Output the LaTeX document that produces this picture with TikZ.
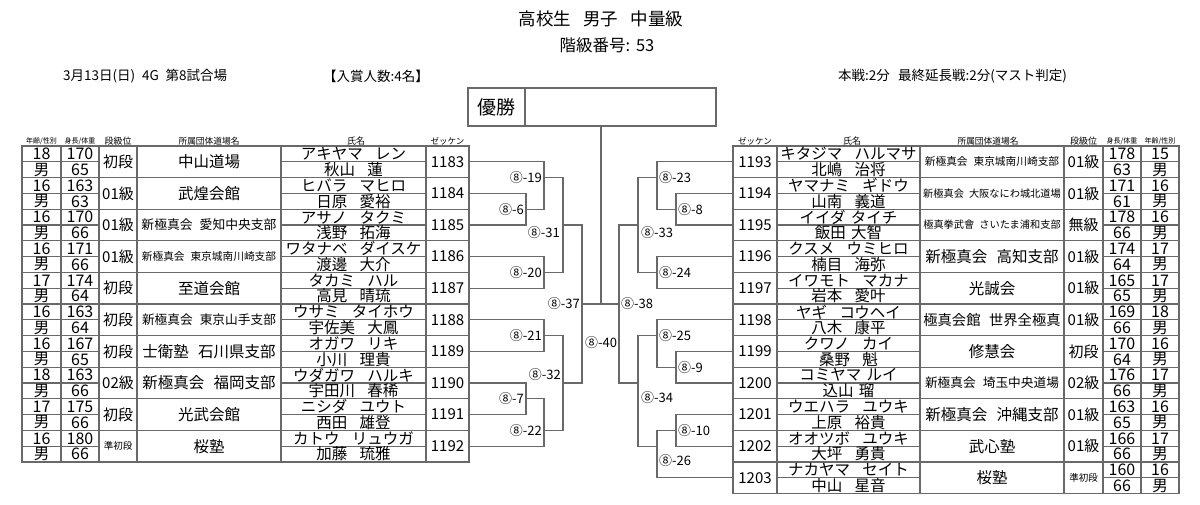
\documentclass[tikz,border=0pt]{standalone}
\usepackage{fontspec}
\setmainfont{Noto Sans CJK JP}
\newcommand\fs[1]{\fontsize{#1}{#1}\selectfont}
\newcommand\gp{\hspace{0.8em}}
\definecolor{lc}{RGB}{105,105,105}
\begin{document}
\begin{tikzpicture}[x=1pt,y=-1pt,
  tbl/.style={draw=lc, line width=1.1pt},
  br/.style={draw=lc, line width=1.1pt},
  txt/.style={inner sep=0pt, font={\fs{15.5}}},
  num/.style={inner sep=0pt, font={\fs{16}}},
  hdr/.style={inner sep=0pt},
  lbl/.style={inner sep=0pt, font={\fs{13}}},
  cellL/.style={inner sep=0pt, minimum width=43pt, minimum height=31.6pt, font={\fs{15}}},
  cellR/.style={inner sep=0pt, minimum width=44pt, minimum height=31.6pt, font={\fs{15}}}]
\useasboundingbox (0,0) rectangle (1200,504);
\fill[white] (0,0) rectangle (1200,504);

% titles
\node[inner sep=0pt, font={\fs{17.5}}] (title) at (601,19) {高校生\hspace{0.7em}男子\hspace{0.7em}中量級};
\node[inner sep=0pt, font={\fs{16.5}}] (cls) at (607,45) {階級番号:\hspace{0.35em}53};
\node[inner sep=0pt, font={\fs{13.5}}, anchor=west] (date) at (63,76) {3月13日(日)\hspace{0.5em}4G\hspace{0.5em}第8試合場};
\node[inner sep=0pt, font={\fs{13.5}}, anchor=west] (prize) at (323,76) {【入賞人数:4名】};
\node[inner sep=0pt, font={\fs{13.5}}, anchor=west] (time) at (838,76) {本戦:2分\hspace{0.6em}最終延長戦:2分(マスト判定)};

% winner box
\node[draw=lc, line width=1.1pt, minimum width=57pt, minimum height=38pt, inner sep=0pt, font={\fs{19}}] (wl) at (496.5,107) {優勝};
\node[draw=lc, line width=1.1pt, minimum width=191pt, minimum height=38pt, inner sep=0pt] (wb) at (620.5,107) {};

% headers
\node[hdr, font={\fs{7}}] (hL1) at (41.5,141) {年齢/性別};
\node[hdr, font={\fs{7}}] (hL2) at (80,141) {身長/体重};
\node[hdr, font={\fs{9}}] (hL3) at (118,141) {段級位};
\node[hdr, font={\fs{8.7}}] (hL4) at (209,141) {所属団体道場名};
\node[hdr, font={\fs{9}}] (hL5) at (356,141) {氏名};
\node[hdr, font={\fs{8.5}}] (hL6) at (447.5,141) {ゼッケン};
\node[hdr, font={\fs{8.5}}] (hR6) at (755,141) {ゼッケン};
\node[hdr, font={\fs{9}}] (hR5) at (852,141) {氏名};
\node[hdr, font={\fs{8.7}}] (hR4) at (988,141) {所属団体道場名};
\node[hdr, font={\fs{9}}] (hR3) at (1083.5,141) {段級位};
\node[hdr, font={\fs{7}}] (hR2) at (1122,141) {身長/体重};
\node[hdr, font={\fs{7}}] (hR1) at (1160,141) {年齢/性別};

% left table grid
\draw[tbl] (22,146) rectangle (469,462);
\foreach \x in {61,99,137,281,426} \draw[tbl] (\x,146) -- (\x,462);
\foreach \i in {1,...,9} \draw[tbl] (22,{146+\i*31.6}) -- (469,{146+\i*31.6});
\foreach \i in {0,...,9} {
  \draw[tbl] (22,{146+(\i+0.5)*31.6}) -- (99,{146+(\i+0.5)*31.6});
  \draw[tbl] (281,{146+(\i+0.5)*31.6}) -- (426,{146+(\i+0.5)*31.6});
}
% right table grid
\draw[tbl] (733,146) rectangle (1179,493.6);
\foreach \x in {777,920,1064,1103,1141} \draw[tbl] (\x,146) -- (\x,493.6);
\foreach \i in {1,...,10} \draw[tbl] (733,{146+\i*31.6}) -- (1179,{146+\i*31.6});
\foreach \i in {0,...,10} {
  \draw[tbl] (777,{146+(\i+0.5)*31.6}) -- (920,{146+(\i+0.5)*31.6});
  \draw[tbl] (1103,{146+(\i+0.5)*31.6}) -- (1179,{146+(\i+0.5)*31.6});
}

\newcommand\Lrow[9]{%
 \pgfmathsetmacro\yc{146+(#1+0.5)*31.6}%
 \pgfmathsetmacro\yt{\yc-7.9}%
 \pgfmathsetmacro\yb{\yc+7.9}%
 \node[num] (La#1) at (41.5,\yt) {#2};
 \node[txt] (Lx#1) at (41.5,\yb) {男};
 \node[num] (Lh#1) at (80,\yt) {#3};
 \node[num] (Lw#1) at (80,\yb) {#4};
 \node[txt, font={\fs{15}}] (Lr#1) at (118,\yc) {#5};
 \node[txt] (Ld#1) at (209,\yc) {#6};
 \node[txt] (Lk#1) at (353.5,\yt) {#7};
 \node[txt] (Ln#1) at (353.5,\yb) {#8};
 \node[cellL] (Lz#1) at (447.5,\yc) {#9};
}
\newcommand\Rrow[9]{%
 \pgfmathsetmacro\yc{146+(#1+0.5)*31.6}%
 \pgfmathsetmacro\yt{\yc-7.9}%
 \pgfmathsetmacro\yb{\yc+7.9}%
 \node[num] (Ra#1) at (1160,\yt) {#2};
 \node[txt] (Rx#1) at (1160,\yb) {男};
 \node[num] (Rh#1) at (1122,\yt) {#3};
 \node[num] (Rw#1) at (1122,\yb) {#4};
 \node[txt, font={\fs{15}}] (Rr#1) at (1083.5,\yc) {#5};
 \node[txt] (Rd#1) at (992,\yc) {#6};
 \node[txt] (Rk#1) at (848.5,\yt) {#7};
 \node[txt] (Rn#1) at (848.5,\yb) {#8};
 \node[cellR] (Rz#1) at (755,\yc) {#9};
}

\Lrow{0}{18}{170}{65}{初段}{中山道場}{アキヤマ\gp レン}{秋山\gp 蓮}{1183}
\Lrow{1}{16}{163}{63}{01級}{武煌会館}{ヒバラ\gp マヒロ}{日原\gp 愛裕}{1184}
\Lrow{2}{16}{170}{66}{01級}{\fs{12.8}新極真会\hspace{.55em}愛知中央支部}{アサノ\gp タクミ}{浅野\gp 拓海}{1185}
\Lrow{3}{16}{171}{66}{01級}{\fs{10.7}新極真会\hspace{.55em}東京城南川崎支部}{ワタナベ\gp ダイスケ}{渡邊\gp 大介}{1186}
\Lrow{4}{17}{174}{64}{初段}{至道会館}{タカミ\gp ハル}{高見\gp 晴琉}{1187}
\Lrow{5}{16}{163}{64}{初段}{\fs{12.7}新極真会\hspace{.55em}東京山手支部}{ウサミ\gp タイホウ}{宇佐美\gp 大鳳}{1188}
\Lrow{6}{16}{167}{65}{初段}{士衛塾\hspace{.6em}石川県支部}{オガワ\gp リキ}{小川\gp 理貴}{1189}
\Lrow{7}{18}{163}{66}{02級}{新極真会\hspace{.6em}福岡支部}{ウダガワ\gp ハルキ}{宇田川\gp 春稀}{1190}
\Lrow{8}{17}{175}{66}{初段}{光武会館}{ニシダ\gp ユウト}{西田\gp 雄登}{1191}
\Lrow{9}{16}{180}{66}{\fs{9.5}準初段}{桜塾}{カトウ\gp リュウガ}{加藤\gp 琉雅}{1192}

\Rrow{0}{15}{178}{63}{01級}{\fs{10.7}新極真会\hspace{.55em}東京城南川崎支部}{キタジマ\gp ハルマサ}{北嶋\gp 治将}{1193}
\Rrow{1}{16}{171}{61}{01級}{\fs{10.2}新極真会\hspace{.5em}大阪なにわ城北道場}{ヤマナミ\gp ギドウ}{山南\gp 義道}{1194}
\Rrow{2}{16}{178}{66}{無級}{\fs{10.2}極真拳武會\hspace{.5em}さいたま浦和支部}{イイダ\hspace{0.35em}タイチ}{飯田\hspace{0.35em}大智}{1195}
\Rrow{3}{17}{174}{64}{01級}{新極真会\hspace{.6em}高知支部}{クスメ\gp ウミヒロ}{楠目\gp 海弥}{1196}
\Rrow{4}{17}{165}{65}{01級}{光誠会}{イワモト\gp マカナ}{岩本\gp 愛叶}{1197}
\Rrow{5}{18}{169}{66}{01級}{\fs{14.3}極真会館\hspace{.6em}世界全極真}{ヤギ\gp コウヘイ}{八木\gp 康平}{1198}
\Rrow{6}{16}{170}{64}{初段}{修慧会}{クワノ\gp カイ}{桑野\gp 魁}{1199}
\Rrow{7}{17}{176}{66}{02級}{\fs{12.7}新極真会\hspace{.55em}埼玉中央道場}{コミヤマ\hspace{0.35em}ルイ}{込山\hspace{0.35em}瑠}{1200}
\Rrow{8}{16}{163}{65}{01級}{新極真会\hspace{.6em}沖縄支部}{ウエハラ\gp ユウキ}{上原\gp 裕貴}{1201}
\Rrow{9}{17}{166}{66}{01級}{武心塾}{オオツボ\gp ユウキ}{大坪\gp 勇貴}{1202}
\Rrow{10}{16}{160}{66}{\fs{9.5}準初段}{桜塾}{ナカヤマ\gp セイト}{中山\gp 星音}{1203}

% bracket: left
\coordinate (m6) at (526,209.2);
\coordinate (m19) at (544,177.6);
\coordinate (m20) at (544,272.4);
\coordinate (m31) at (563,225.0);
\coordinate (m21) at (544,335.6);
\coordinate (m7) at (526,398.8);
\coordinate (m22) at (544,430.4);
\coordinate (m32) at (563,383.0);
\coordinate (m37) at (582,304.0);
\draw[br] (Lz1.east) -| (m6); \draw[br] (Lz2.east) -| (m6);
\draw[br] (Lz0.east) -| (m19); \draw[br] (m6) -| (m19);
\draw[br] (Lz3.east) -| (m20); \draw[br] (Lz4.east) -| (m20);
\draw[br] (m19) -| (m31); \draw[br] (m20) -| (m31);
\draw[br] (Lz5.east) -| (m21); \draw[br] (Lz6.east) -| (m21);
\draw[br] (Lz7.east) -| (m7); \draw[br] (Lz8.east) -| (m7);
\draw[br] (m7) -| (m22); \draw[br] (Lz9.east) -| (m22);
\draw[br] (m21) -| (m32); \draw[br] (m22) -| (m32);
\draw[br] (m31) -| (m37); \draw[br] (m32) -| (m37);
% bracket: right
\coordinate (m8) at (676,209.2);
\coordinate (m23) at (657,177.6);
\coordinate (m24) at (657,272.4);
\coordinate (m33) at (638,225.0);
\coordinate (m9) at (676,367.2);
\coordinate (m25) at (657,335.6);
\coordinate (m10) at (676,430.4);
\coordinate (m26) at (657,446.2);
\coordinate (m34) at (638,383.0);
\coordinate (m38) at (619,304.0);
\draw[br] (Rz1.west) -| (m8); \draw[br] (Rz2.west) -| (m8);
\draw[br] (Rz0.west) -| (m23); \draw[br] (m8) -| (m23);
\draw[br] (Rz3.west) -| (m24); \draw[br] (Rz4.west) -| (m24);
\draw[br] (m23) -| (m33); \draw[br] (m24) -| (m33);
\draw[br] (Rz6.west) -| (m9); \draw[br] (Rz7.west) -| (m9);
\draw[br] (Rz5.west) -| (m25); \draw[br] (m9) -| (m25);
\draw[br] (Rz8.west) -| (m10); \draw[br] (Rz9.west) -| (m10);
\draw[br] (m10) -| (m26); \draw[br] (Rz10.west) -| (m26);
\draw[br] (m25) -| (m34); \draw[br] (m26) -| (m34);
\draw[br] (m33) -| (m38); \draw[br] (m34) -| (m38);
% final
\coordinate (fin) at (601,304.0);
\draw[br] (m37) -- (m38);
\draw[br] (fin) -- (fin |- wb.south);

% match labels
\node[lbl, anchor=east] (l6) at (524,209.2) {⑧-6};
\node[lbl, anchor=east] (l19) at (542,177.6) {⑧-19};
\node[lbl, anchor=east] (l20) at (542,272.4) {⑧-20};
\node[lbl, anchor=east] (l31) at (560,233) {⑧-31};
\node[lbl, anchor=east] (l21) at (542,335.6) {⑧-21};
\node[lbl, anchor=east] (l7) at (524,398.8) {⑧-7};
\node[lbl, anchor=east] (l22) at (542,430.4) {⑧-22};
\node[lbl, anchor=east] (l32) at (561,375) {⑧-32};
\node[lbl, anchor=east] (l37) at (580,304) {⑧-37};
\node[lbl] (l40) at (601,343) {⑧-40};
\node[lbl, anchor=west] (l38) at (621,304) {⑧-38};
\node[lbl, anchor=west] (l33) at (641,233) {⑧-33};
\node[lbl, anchor=west] (l23) at (659,177.6) {⑧-23};
\node[lbl, anchor=west] (l8) at (678,209.2) {⑧-8};
\node[lbl, anchor=west] (l24) at (659,272.4) {⑧-24};
\node[lbl, anchor=west] (l25) at (659,335.6) {⑧-25};
\node[lbl, anchor=west] (l9) at (678,367.2) {⑧-9};
\node[lbl, anchor=west] (l34) at (641,398) {⑧-34};
\node[lbl, anchor=west] (l10) at (678,430.4) {⑧-10};
\node[lbl, anchor=west] (l26) at (659,461) {⑧-26};
\end{tikzpicture}
\end{document}
